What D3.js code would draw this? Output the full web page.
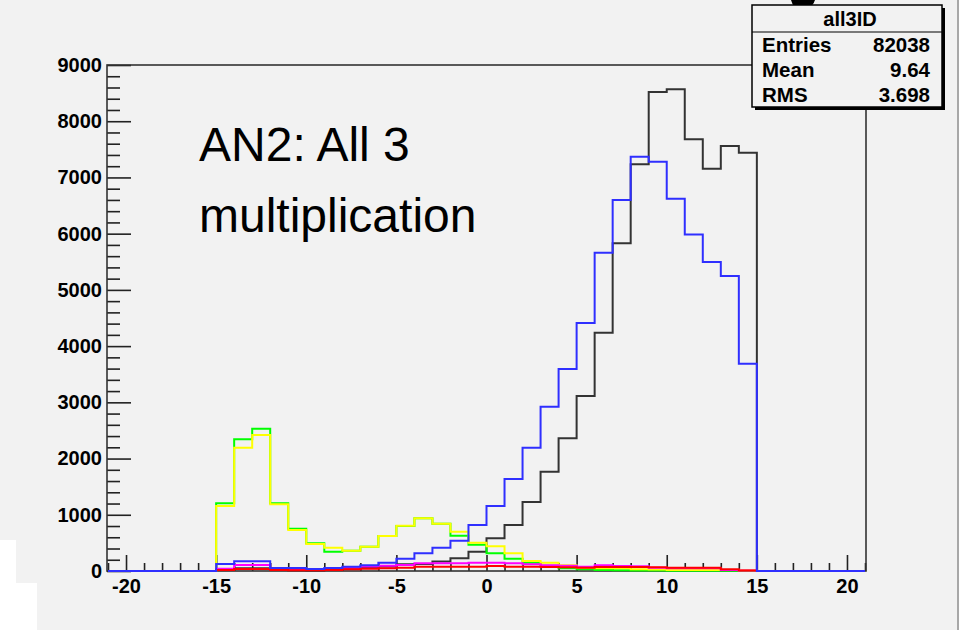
<!DOCTYPE html>
<html><head><meta charset="utf-8">
<script src="https://cdn.jsdelivr.net/npm/d3@7"></script>
<style>
html,body{margin:0;padding:0;background:#f2f2f2;}
svg{display:block;}
text{font-family:"Liberation Sans",Arial,Helvetica,sans-serif;}
</style></head>
<body>
<svg id="c" width="962" height="630"></svg>
<script>
// bin lower edges (bin width 1) from -21 to 20
const binLow = [-21,-20,-19,-18,-17,-16,-15,-14,-13,-12,-11,-10,-9,-8,-7,-6,-5,-4,-3,-2,-1,0,1,2,3,4,5,6,7,8,9,10,11,12,13,14,15,16,17,18,19,20];
const blackVals = [0,0,0,0,0,0, 30,50,50,20,15,10,20,40,60,80,119,125,170,225,344,581,818,1227,1767,2360,3113,4239,5829,7234,8520,8568,7678,7156,7560,7441, 0,0,0,0,0,0];
const blueVals  = [0,0,0,0,0,0, 125,172,172,53,53,36,53,77,101,148,219,314,415,539,818,1156,1636,2194,2923,3593,4411,5662,6599,7370,7281,6623,5983,5496,5247,3688, 0,0,0,0,0,0];
const greenVals = [0,0,0,0,0,0, 1204,2342,2531,1204,753,492,344,361,433,623,801,940,842,629,468,314,219,148,95,48,30,20,15,10,10,5,5,5,3,2, 0,0,0,0,0,0];
const yellowVals= [0,0,0,0,0,0, 1156,2194,2419,1186,729,480,415,361,433,623,806,940,842,699,504,439,314,180,148,101,59,47,47,30,25,20,20,20,20,15, 0,0,0,0,0,0];
const magentaVals=[0,0,0,0,0,0, 40,107,107,40,30,30,40,60,80,95,107,137,137,137,148,148,137,119,101,95,77,101,89,83,59,47,47,47,20,10, 0,0,0,0,0,0];
const redVals   = [0,0,0,0,0,0, 20,36,36,20,15,15,20,30,40,50,60,77,77,77,77,89,77,77,70,65,60,72,72,72,65,60,60,60,30,10, 0,0,0,0,0,0];

const xMajor = [-20,-15,-10,-5,0,5,10,15,20];
const yMajor = [0,1000,2000,3000,4000,5000,6000,7000,8000,9000];
const statsTitle = "all3ID";
const statsRows = [["Entries","82038"],["Mean","9.64"],["RMS","3.698"]];
const noteLines = ["AN2: All 3","multiplication"];

const svg = d3.select("#c");
const W=962,H=630;
// page background details
svg.append("rect").attr("x",0).attr("y",0).attr("width",W).attr("height",H).attr("fill","#f2f2f2");
svg.append("rect").attr("x",0).attr("y",540).attr("width",16).attr("height",43).attr("fill","#ffffff");
svg.append("rect").attr("x",0).attr("y",583).attr("width",37).attr("height",47).attr("fill","#ffffff");
svg.append("rect").attr("x",957).attr("y",0).attr("width",2).attr("height",H).attr("fill","#a8a8a8");
svg.append("rect").attr("x",959).attr("y",0).attr("width",3).attr("height",H).attr("fill","#ffffff");
svg.append("path").attr("d","M791,0 Q794,12 805,10 Q813,7 815,0 Z").attr("fill","#000");

const L=107,R=866,T=65,B=571;
const x = d3.scaleLinear().domain([-21,21]).range([108,865]);
const y = d3.scaleLinear().domain([0,9000]).range([B,T]);

// axes
const yMinor = d3.range(0,9001,200).filter(v=>v%1000!==0);
const xMinor = d3.range(-21,22,1).filter(v=>v%5!==0);

const gy = svg.append("g").attr("transform",`translate(${L},0)`);
gy.call(d3.axisLeft(y).tickValues(yMinor).tickSize(-13).tickSizeOuter(0).tickFormat(""));
gy.call(g=>g.selectAll(".domain").remove());
const gy2 = svg.append("g").attr("transform",`translate(${L},0)`);
gy2.call(d3.axisLeft(y).tickValues(yMajor).tickSize(-24).tickSizeOuter(0).tickPadding(5).tickFormat(d3.format("d")));
gy2.select(".domain").remove();
[gy,gy2].forEach(g=>g.selectAll("line").attr("stroke","#222").attr("stroke-width",1.6));
gy2.selectAll("text").attr("font-size",20).attr("font-weight","bold").attr("fill","#000");

const gx = svg.append("g").attr("transform",`translate(0,${B})`);
gx.call(d3.axisBottom(x).tickValues(xMinor).tickSize(-8).tickSizeOuter(0).tickFormat(""));
gx.select(".domain").remove();
const gx2 = svg.append("g").attr("transform",`translate(0,${B})`);
gx2.call(d3.axisBottom(x).tickValues(xMajor).tickSize(-16).tickSizeOuter(0).tickPadding(8).tickFormat(d3.format("d")));
gx2.select(".domain").remove();
[gx,gx2].forEach(g=>g.selectAll("line").attr("stroke","#222").attr("stroke-width",1.6));
gx2.selectAll("text").attr("font-size",20).attr("font-weight","bold").attr("fill","#000").text(d=>d<0?"-"+Math.abs(d):d);

// frame
svg.append("rect").attr("x",L).attr("y",T).attr("width",R-L).attr("height",B-T)
  .attr("fill","none").attr("stroke","#333").attr("stroke-width",1.6);

// histograms
const line = d3.line().x(d=>x(d[0])).y(d=>y(d[1]));
function hist(vals,color){
  const pts=[];
  vals.forEach((v,i)=>{pts.push([binLow[i],v]);pts.push([binLow[i]+1,v]);});
  svg.append("path").attr("d",line(pts)).attr("fill","none").attr("stroke",color)
    .attr("stroke-width",2).attr("stroke-linejoin","miter");
}
hist(blackVals,"#333333");
hist(greenVals,"#00ff00");
hist(yellowVals,"#ffff00");
hist(magentaVals,"#ff00ff");
hist(redVals,"#ff0000");
hist(blueVals,"#2f2fff");

// note text
noteLines.forEach((t,i)=>{
  svg.append("text").attr("x",199).attr("y",161+i*71).attr("font-size",48).attr("fill","#000").text(t);
});

// stats box
const bx=752,by=5,bw=190,bh=102;
svg.append("rect").attr("x",bx+3).attr("y",by+3).attr("width",bw).attr("height",bh).attr("fill","#000");
svg.append("rect").attr("x",bx).attr("y",by).attr("width",bw).attr("height",bh).attr("fill","#f2f2f2")
  .attr("stroke","#000").attr("stroke-width",1.5);
svg.append("line").attr("x1",bx).attr("x2",bx+bw).attr("y1",32).attr("y2",32).attr("stroke","#000").attr("stroke-width",1.2);
svg.append("text").attr("x",bx+bw/2+3).attr("y",26).attr("text-anchor","middle").attr("font-size",20).attr("font-weight","bold").text(statsTitle);
statsRows.forEach((r,i)=>{
  const yy=52+i*25;
  svg.append("text").attr("x",762).attr("y",yy).attr("font-size",20.5).attr("font-weight","bold").text(r[0]);
  svg.append("text").attr("x",930).attr("y",yy).attr("text-anchor","end").attr("font-size",20.5).attr("font-weight","bold").text(r[1]);
});
</script>
</body></html>
